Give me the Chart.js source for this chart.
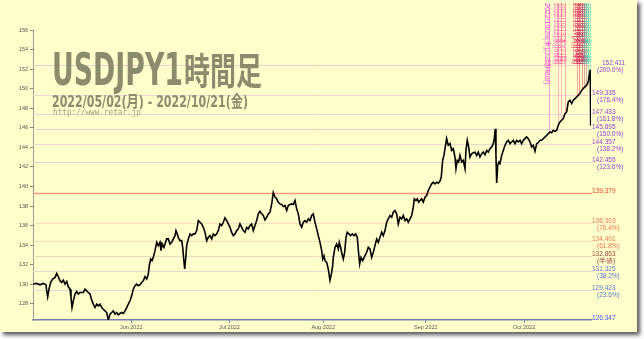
<!DOCTYPE html>
<html lang="ja">
<head>
<meta charset="UTF-8">
<title>USDJPY1時間足</title>
<script src="https://cdn.jsdelivr.net/npm/chart.js"></script>
<style>
  html, body { margin: 0; padding: 0; background: #fff; }
  canvas { display: block; }
</style>
</head>
<body>
<canvas id="grafico" width="644" height="339"></canvas>
<script>
// 営業日インデックス (2022/05/02 = 0, 2022/10/21 終値 = 125)
const days = [
  0.07,0.83,1.57,2.31,2.91,3.07,3.29,3.58,3.96,4.41,4.93,5.31,5.67,6.05,6.43,6.79,7.17,7.55,7.91,8.29,8.51,8.74,9.03,9.41,9.79,10.15,10.53,11.27,11.65,12.03,12.39,12.77,13.15,13.51,13.89,14.27,14.63,15.01,15.39,15.75,16.13,16.51,16.87,17.25,17.63,17.99,18.37,18.75,19.11,19.49,19.87,20.23,20.61,20.99,21.35,21.73,22.11,22.47,22.85,23.23,23.59,23.97,24.35,
  24.71,25.09,25.47,25.83,26.05,26.36,26.66,26.95,27.33,27.71,28.07,28.45,28.67,28.96,29.34,29.57,29.95,30.31,30.69,31.07,31.43,31.81,32.03,32.32,32.55,32.93,33.31,33.53,33.76,33.98,34.20,34.43,34.79,35.17,35.55,35.91,36.29,36.67,37.03,37.41,37.79,38.15,38.53,38.91,39.27,39.65,40.03,40.39,40.77,41.15,41.51,41.89,42.27,42.63,43.01,43.39,43.75,44.13,44.51,44.87,45.25,45.63,45.99,46.37,46.75,47.11,47.49,47.87,48.23,48.61,
  48.99,49.35,49.73,50.11,50.47,50.85,51.23,51.59,51.97,52.35,52.71,53.09,53.47,53.83,54.21,54.59,54.95,55.33,55.71,56.07,56.45,56.83,57.19,57.57,57.95,58.31,58.69,59.07,59.43,59.81,60.19,60.55,60.93,61.31,61.67,62.05,62.43,62.79,63.17,63.55,63.91,64.29,64.67,64.89,65.18,65.41,65.79,66.15,66.53,66.91,67.13,67.27,67.65,68.03,68.39,68.61,68.92,69.22,69.51,69.82,70.11,70.40,70.78,71.16,71.52,71.90,72.28,72.64,72.96,73.18,73.47,73.85,74.37,
  74.75,75.11,75.49,75.87,76.23,76.61,76.99,77.35,77.73,78.11,78.47,78.85,79.23,79.59,79.97,80.35,80.71,81.09,81.47,81.83,82.21,82.59,82.95,83.33,83.71,84.07,84.45,84.83,85.19,85.41,85.79,86.08,86.40,86.69,87.07,87.43,87.81,88.19,88.55,88.93,89.31,89.67,90.05,90.43,90.79,91.17,91.46,91.77,92.06,92.35,92.66,93.02,93.41,93.79,94.15,94.53,94.75,95.04,95.36,95.65,96.03,96.39,96.77,96.99,97.28,97.60,97.89,98.27,98.63,99.01,
  99.39,99.75,100.13,100.51,100.87,101.25,101.63,101.99,102.37,102.75,103.11,103.33,103.56,103.71,103.87,104.09,104.38,104.61,104.99,105.35,105.73,106.11,106.47,106.85,107.23,107.59,107.97,108.35,108.71,109.09,109.47,109.83,110.21,110.59,110.95,111.33,111.71,112.07,112.45,112.83,113.19,113.57,113.95,114.31,114.69,115.07,115.43,115.81,116.19,116.55,116.93,117.31,117.67,118.05,118.43,118.79,119.17,119.55,119.91,120.29,120.67,121.03,121.41,121.79,122.15,122.53,122.91,123.27,123.65,124.03,124.39,124.61,124.84,124.90,124.95,125.00
];
const prices = [
  130.02,130.09,129.95,130.09,129.95,129.33,128.72,129.50,130.19,130.53,130.70,131.11,130.77,130.36,130.19,130.43,130.02,130.29,129.74,129.50,128.65,127.62,128.31,129.00,129.26,129.00,129.16,129.16,129.50,129.33,129.16,129.00,128.38,127.97,127.62,127.97,127.79,127.97,127.62,127.45,127.28,127.11,126.35,126.94,127.11,127.28,126.94,127.11,126.87,127.01,127.11,127.01,127.28,127.62,127.97,128.31,128.82,129.50,129.85,130.02,129.85,129.95,130.19,
  130.36,130.77,130.53,131.05,131.90,132.58,132.41,132.75,133.44,134.29,133.95,134.29,133.44,134.12,133.77,134.12,134.64,134.64,134.12,134.29,134.64,134.97,135.49,135.15,134.80,134.46,134.46,133.77,132.58,131.56,132.58,133.95,134.64,135.15,134.97,135.15,135.15,135.49,136.51,136.34,136.17,135.82,135.31,134.46,134.80,134.97,134.64,135.15,134.97,135.15,135.49,136.17,136.00,136.34,136.79,136.51,136.17,135.82,135.31,134.97,135.15,135.49,135.66,136.17,135.82,135.49,135.31,135.82,135.66,136.00,
  136.17,135.49,136.00,136.51,137.20,137.47,137.20,137.03,136.58,136.85,137.20,137.37,138.22,139.38,138.91,138.74,138.39,138.22,138.15,137.95,138.05,137.54,138.05,138.15,138.22,138.15,138.56,137.71,137.20,136.17,135.83,136.34,136.51,136.34,136.68,136.51,137.03,137.20,136.34,135.66,134.97,134.29,133.44,132.58,132.92,132.41,132.24,131.55,130.40,131.21,131.90,132.75,133.78,134.12,133.61,134.29,133.78,133.09,132.58,133.26,134.80,135.32,135.15,134.97,135.15,134.97,135.15,134.80,133.09,132.07,132.75,132.41,132.92,
  133.27,133.78,133.61,132.75,133.27,133.95,134.63,134.29,134.80,135.32,134.97,135.49,136.34,136.68,137.03,136.85,137.37,137.54,137.20,136.17,136.85,136.68,137.03,136.51,136.68,136.34,136.68,137.03,137.88,138.73,138.56,138.73,138.39,138.56,138.73,138.39,138.91,139.08,139.59,139.93,140.27,140.44,140.27,140.44,140.34,140.55,140.96,142.67,143.18,144.03,144.90,144.21,144.38,143.69,143.86,143.01,141.81,142.67,142.50,143.18,142.50,142.67,141.81,143.69,144.72,144.03,143.00,143.35,143.45,143.50,
  143.18,143.52,143.01,143.35,143.52,143.25,143.69,143.52,143.86,144.03,144.38,144.89,145.90,143.18,140.35,142.15,142.50,142.33,143.18,143.69,144.21,144.55,144.72,144.38,144.55,144.72,144.38,144.72,144.55,144.72,144.38,144.72,144.89,145.06,144.89,144.55,144.03,144.21,143.60,144.38,144.48,144.72,144.72,144.89,145.06,145.23,145.40,145.57,145.50,145.74,145.64,145.74,146.26,146.60,146.77,146.94,147.45,147.62,148.65,148.82,148.48,148.82,148.99,149.16,149.33,149.50,149.85,150.02,150.19,150.36,150.70,151.38,151.94,148.30,146.23,146.60
];

const yTicks = [128,130,132,134,136,138,140,142,144,146,148,150,152,154,156];
const monthPos = [22, 44, 65, 88, 110];
const monthLabels = ['Jun 2022', 'Jul 2022', 'Aug 2022', 'Sep 2022', 'Oct 2022'];

// フィボナッチ (安値 126.347 - 高値 139.379)
const fibValues = [152.411,149.335,147.433,145.895,144.357,142.455,139.379,136.303,134.401,132.863,131.325,129.423,126.347];
const fibNames  = ['200.0%','176.4%','161.8%','150.0%','138.2%','123.6%','','76.4%','61.8%','半値','38.2%','23.6%',''];
const fibText   = ['#9b40d0','#9b40d0','#9b40d0','#9b40d0','#9b40d0','#9b40d0','#f03c28','#f07858','#f07858','#a04848','#5a78d0','#5a78d0','#4050f0'];
const fibLine   = ['#f0cccc','#f0d4d4','#f0d4d4','#f0cccc','#f0d4d4','#f0d0d0','#ff9a80','#ffdcc0','#ffd8bc','#ecd8bc','#dcdcd0','#dcdcd0','#7080b0'];

// 高値更新マーカー
const markDays = [115.6, 117.7, 118.3, 119.1, 121.9, 122.4, 122.9, 123.4, 123.9, 124.3, 124.7];
const markLabels = ['2022/10/20(木)(22時Hour)','2022/10/12(水)(09時)','2022/10/12(水)(21時)','2022/10/13(木)(21時)',
  '2022/10/17(月)(10時)','2022/10/18(火)(04時)','2022/10/18(火)(16時)','2022/10/19(水)(08時)','2022/10/19(水)(20時)',
  '2022/10/20(木)(10時)','2022/10/21(金)(08時)'];
const markColors = ['#ff33dd','#ff55bb','#ff66aa','#ff5599','#ee3366','#dd2255','#cc2244','#bb3366','#aa4488','#44bb99','#66ddbb'];

const bgPlugin = {
  id: 'bg',
  beforeDraw(chart) {
    const c = chart.ctx;
    c.save();
    c.fillStyle = '#fff';
    c.fillRect(0, 0, chart.width, chart.height);
    c.shadowColor = 'rgba(0,0,0,0.65)';
    c.shadowBlur = 4;
    c.shadowOffsetX = 3;
    c.shadowOffsetY = 3;
    c.fillStyle = '#ffffcc';
    c.fillRect(0, 0, 637, 332);
    c.restore();
  }
};

function priceAt(d) {
  let best = 0;
  for (let i = 0; i < days.length; i++) {
    if (Math.abs(days[i] - d) < Math.abs(days[best] - d)) best = i;
  }
  return prices[best];
}

const fibPlugin = {
  id: 'fib',
  beforeDatasetsDraw(chart) {
    const c = chart.ctx, a = chart.chartArea;
    const y = chart.scales.y, x = chart.scales.x;
    c.save();
    fibValues.forEach((v, i) => {
      const py = Math.round(y.getPixelForValue(v)) + 0.5;
      if (i < fibValues.length - 1) {
        c.strokeStyle = fibLine[i];
        c.lineWidth = (v === 139.379) ? 1.5 : 1;
        c.beginPath(); c.moveTo(a.left, py); c.lineTo(a.right + 1, py); c.stroke();
      }
      c.fillStyle = fibText[i];
      c.font = '6.5px "Liberation Sans", sans-serif';
      c.textBaseline = 'alphabetic';
      c.fillText(v.toFixed(3), a.right + 1 + (i === 0 ? 10 : 0), py - 1);
      if (fibNames[i]) c.fillText('(' + fibNames[i] + ')', a.right + 6, py + 6);
    });

    markDays.forEach((d, i) => {
      const px = Math.round(x.getPixelForValue(d)) + 0.5;
      const py = y.getPixelForValue(priceAt(d));
      c.globalAlpha = 0.45;
      c.strokeStyle = markColors[i];
      c.lineWidth = 1;
      c.beginPath(); c.moveTo(px, 4); c.lineTo(px, py); c.stroke();
      c.globalAlpha = 1;
      c.save();
      c.translate(px - 3, 3);
      c.rotate(Math.PI / 2);
      c.fillStyle = markColors[i];
      c.font = (i === 0 ? '7px' : '6.5px') + ' "Liberation Sans", "Noto Sans CJK JP", sans-serif';
      c.textBaseline = 'middle';
      c.fillText(markLabels[i], 0, 0);
      c.restore();
    });
    c.restore();
  }
};

function fitText(c, text, x, y, w) {
  const m = c.measureText(text).width;
  c.save();
  c.translate(x, y);
  c.scale(w / m, 1);
  c.fillText(text, 0, 0);
  c.restore();
}

const titlePlugin = {
  id: 'title',
  afterDraw(chart) {
    const c = chart.ctx;
    c.save();
    c.fillStyle = '#8b8b6d';
    c.textBaseline = 'alphabetic';
    c.font = 'bold 45px "DejaVu Sans Condensed", "DejaVu Sans", sans-serif';
    fitText(c, 'USDJPY1', 52, 85, 131);
    c.font = 'bold 37px "Noto Sans CJK JP", sans-serif';
    fitText(c, '時間足', 184, 85, 78);
    c.font = 'bold 16px "DejaVu Sans Condensed", "DejaVu Sans", "Noto Sans CJK JP", sans-serif';
    fitText(c, '2022/05/02(月) - 2022/10/21(金)', 52, 107, 196);
    c.fillStyle = '#a0a088';
    c.font = '8px "DejaVu Sans Mono", monospace';
    fitText(c, 'http://www.retar.jp', 53, 115, 88);
    c.restore();
  }
};

const ctx = document.getElementById('grafico').getContext('2d');
new Chart(ctx, {
  type: 'line',
  data: {
    datasets: [{
      data: days.map((d, i) => ({ x: d, y: prices[i] })),
      borderColor: '#000',
      borderWidth: 1.6,
      pointRadius: 0,
      tension: 0
    }]
  },
  options: {
    responsive: false,
    animation: false,
    layout: { padding: { left: 0, top: 30, right: 53, bottom: 0 } },
    plugins: { legend: { display: false }, tooltip: { enabled: false } },
    scales: {
      x: {
        type: 'linear', min: 0, max: 125,
        afterBuildTicks: s => { s.ticks = monthPos.map(v => ({ value: v })); },
        afterFit: s => { s.height = 19; },
        ticks: {
          callback: v => monthLabels[monthPos.indexOf(v)],
          font: { size: 5.5, family: 'Liberation Sans' }, color: '#555',
          maxRotation: 0, autoSkip: false, padding: 1
        },
        grid: { drawOnChartArea: false, tickLength: 3, color: '#7080b0' },
        border: { color: '#7080b0', width: 1.5 }
      },
      y: {
        type: 'linear', min: 126.347, max: 156,
        afterBuildTicks: s => { s.ticks = yTicks.map(v => ({ value: v })); },
        afterFit: s => { s.width = 33; },
        ticks: { font: { size: 5.5, family: 'Liberation Sans' }, color: '#555', padding: 2 },
        grid: { drawOnChartArea: false, tickLength: 3, color: '#888' },
        border: { color: '#999', width: 1 }
      }
    }
  },
  plugins: [bgPlugin, fibPlugin, titlePlugin]
});
</script>
</body>
</html>
